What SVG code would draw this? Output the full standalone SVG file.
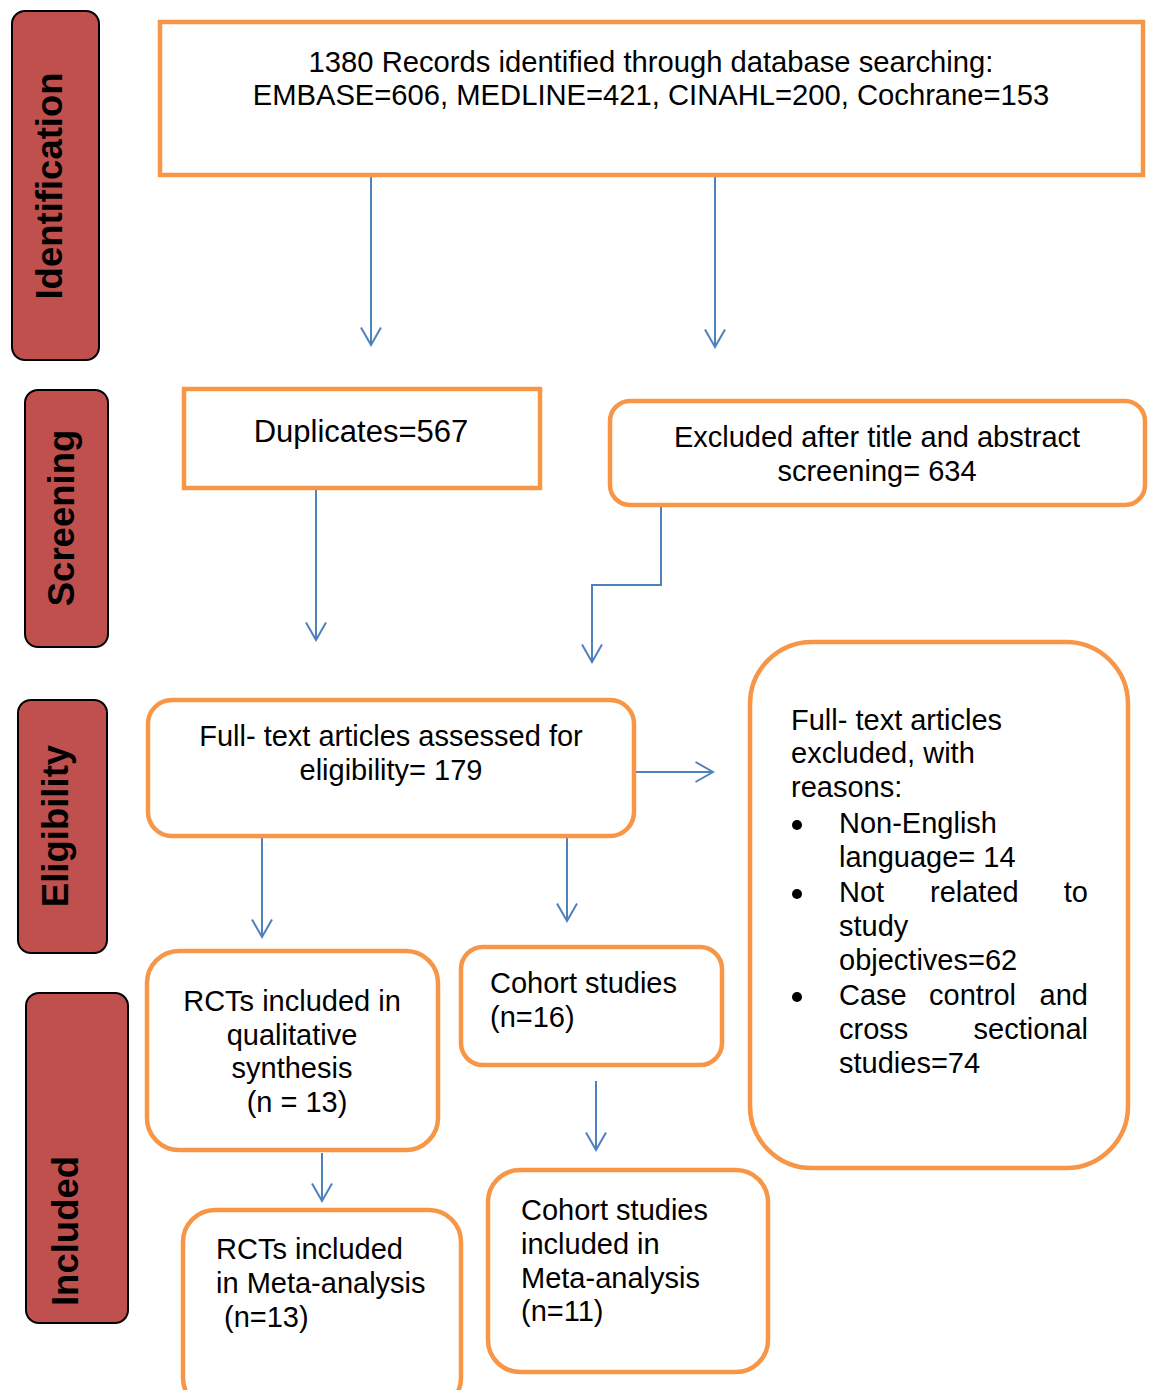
<svg xmlns="http://www.w3.org/2000/svg" width="1152" height="1390" viewBox="0 0 1152 1390">
<style>
.lbl{fill:#C0504D;stroke:#000;stroke-width:2}
.lt{font-family:"Liberation Sans",Arial,sans-serif;font-weight:bold;font-size:36.5px;fill:#000;text-anchor:middle}
.box{fill:#fff;stroke:#F79646;stroke-width:4.5}
.t{font-family:"Liberation Sans",Arial,sans-serif;font-size:29px;fill:#000}
.c{text-anchor:middle}
.e{text-anchor:end}
.conn{fill:none;stroke:#4F81BD;stroke-width:2;marker-end:url(#ah)}
</style>
<defs>
<marker id="ah" markerUnits="userSpaceOnUse" viewBox="-20 -12 22 24" refX="0" refY="0" markerWidth="22" markerHeight="24" orient="auto">
<path d="M-17.5,-10 L0,0 L-17.5,10" fill="none" stroke="#4F81BD" stroke-width="2"/>
</marker>
</defs>
<rect width="1152" height="1390" fill="#fff"/>

<g id="stage-identification">
<rect class="lbl" x="12" y="11" width="87" height="349" rx="13"/>
<text class="lt" transform="translate(62,186) rotate(-90)">Identification</text>
</g>
<g id="stage-screening">
<rect class="lbl" x="25" y="390" width="83" height="257" rx="13"/>
<text class="lt" transform="translate(74,518) rotate(-90)">Screening</text>
</g>
<g id="stage-eligibility">
<rect class="lbl" x="18" y="700" width="89" height="253" rx="13"/>
<text class="lt" transform="translate(68,826) rotate(-90)">Eligibility</text>
</g>
<g id="stage-included">
<rect class="lbl" x="26" y="993" width="102" height="330" rx="13"/>
<text class="lt" transform="translate(78,1231) rotate(-90)">Included</text>
</g>

<g id="connectors">
<path class="conn" d="M371,175 L371,345"/>
<path class="conn" d="M715,175 L715,347"/>
<path class="conn" d="M316,488 L316,640"/>
<path class="conn" d="M661,506 L661,585 L592,585 L592,662"/>
<path class="conn" d="M634,772 L713,772"/>
<path class="conn" d="M262,836 L262,937"/>
<path class="conn" d="M567,836 L567,921"/>
<path class="conn" d="M596,1081 L596,1150"/>
<path class="conn" d="M322,1153 L322,1201"/>
</g>

<g id="records">
<rect class="box" x="160" y="22" width="983" height="153"/>
<text class="t c" x="651" y="72" style="font-size:29.2px">1380 Records identified through database searching:</text>
<text class="t c" x="651" y="105" style="font-size:29.2px">EMBASE=606, MEDLINE=421, CINAHL=200, Cochrane=153</text>
</g>

<g id="duplicates">
<rect class="box" x="184" y="389" width="356" height="99"/>
<text class="t c" x="361" y="442" style="font-size:31px">Duplicates=567</text>
</g>

<g id="excluded-screening">
<rect class="box" x="610" y="401" width="535" height="104" rx="20"/>
<text class="t c" x="877" y="447">Excluded after title and abstract</text>
<text class="t c" x="877" y="481">screening= 634</text>
</g>

<g id="fulltext">
<rect class="box" x="148" y="700" width="486" height="136" rx="24"/>
<text class="t c" x="391" y="746">Full- text articles assessed for</text>
<text class="t c" x="391" y="780">eligibility= 179</text>
</g>

<g id="excluded-fulltext">
<rect class="box" x="750" y="642" width="378" height="526" rx="62"/>
<text class="t" x="791" y="730">Full- text articles</text>
<text class="t" x="791" y="763">excluded, with</text>
<text class="t" x="791" y="797">reasons:</text>
<circle cx="797" cy="825" r="5" fill="#000"/>
<text class="t" x="839" y="833">Non-English</text>
<text class="t" x="839" y="867">language= 14</text>
<circle cx="797" cy="894" r="5" fill="#000"/>
<text class="t" x="839" y="902">Not</text>
<text class="t" x="930" y="902">related</text>
<text class="t e" x="1088" y="902">to</text>
<text class="t" x="839" y="936">study</text>
<text class="t" x="839" y="970">objectives=62</text>
<circle cx="797" cy="997" r="5" fill="#000"/>
<text class="t" x="839" y="1005">Case</text>
<text class="t" x="929" y="1005">control</text>
<text class="t e" x="1088" y="1005">and</text>
<text class="t" x="839" y="1039">cross</text>
<text class="t e" x="1088" y="1039">sectional</text>
<text class="t" x="839" y="1073">studies=74</text>
</g>

<g id="rcts-qualitative">
<rect class="box" x="147" y="951" width="291" height="199" rx="32"/>
<text class="t c" x="292" y="1011">RCTs included in</text>
<text class="t c" x="292" y="1045">qualitative</text>
<text class="t c" x="292" y="1078">synthesis</text>
<text class="t c" x="297" y="1112">(n = 13)</text>
</g>

<g id="cohort">
<rect class="box" x="461" y="947" width="261" height="118" rx="22"/>
<text class="t" x="490" y="993">Cohort studies</text>
<text class="t" x="490" y="1027">(n=16)</text>
</g>

<g id="rcts-meta">
<rect class="box" x="183" y="1210" width="278" height="200" rx="32"/>
<text class="t" x="216" y="1259">RCTs included</text>
<text class="t" x="216" y="1293">in Meta-analysis</text>
<text class="t" x="224" y="1327">(n=13)</text>
</g>

<g id="cohort-meta">
<rect class="box" x="488" y="1170" width="280" height="202" rx="32"/>
<text class="t" x="521" y="1220">Cohort studies</text>
<text class="t" x="521" y="1254">included in</text>
<text class="t" x="521" y="1288">Meta-analysis</text>
<text class="t" x="521" y="1321">(n=11)</text>
</g>
</svg>
